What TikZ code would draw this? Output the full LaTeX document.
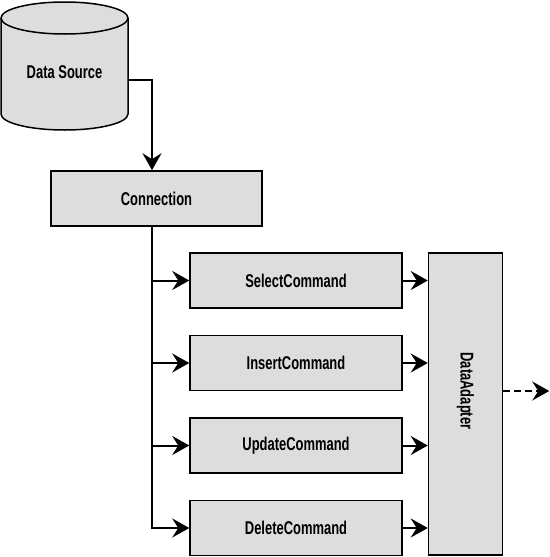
\documentclass[tikz,border=0pt]{standalone}
\usepackage{fontspec}
\setmainfont{Liberation Sans}[FakeStretch=0.7]
\usepackage{tikz}
\usetikzlibrary{positioning,arrows.meta}
\definecolor{boxgray}{RGB}{221,221,221}

\begin{document}
\begin{tikzpicture}[font=\fontsize{18.5}{20}\selectfont\bfseries]
    \tikzstyle{cmd}=[draw, line width=1.5pt, fill=boxgray, minimum width=212pt, minimum height=55pt, node distance=82.5pt, on grid]
    \tikzstyle{arrow}=[line width=2pt, -{Stealth[length=17pt,width=19pt,inset=6pt]}]
    \useasboundingbox (0,0) rectangle (549pt,-557pt);

    % the data source drum
    \draw[line width=1.5pt, fill=boxgray] (1pt,-18pt) -- (1pt,-114pt) arc(180:360:63.5pt and 16pt)
        -- (128pt,-18pt) arc(0:180:63.5pt and 16pt) -- cycle;
    \draw[line width=1.5pt] (1pt,-18pt) arc(180:360:63.5pt and 16pt);
    \node[minimum width=127pt] (src) at (64.5pt,-72pt) {Data Source};

    \node[cmd, minimum width=211pt, below right=126.5pt and 92pt of src] (conn) {Connection};

    \node[cmd, below right=82pt and 139.5pt of conn] (sel) {SelectCommand};
    \node[cmd, below of=sel] (ins) {InsertCommand};
    \node[cmd, below of=ins] (upd) {UpdateCommand};
    \node[cmd, below of=upd] (del) {DeleteCommand};

    \node[draw, line width=1.5pt, fill=boxgray, minimum width=74pt, minimum height=302pt,
          anchor=north west] (adapter) at ([xshift=25pt]sel.north east) {};
    \node[rotate=-90] (adaptlabel) at ([yshift=13pt]adapter.center) {DataAdapter};

    \coordinate (trunk) at ([xshift=-4.5pt]conn.south);
    \coordinate[right=46pt of adapter.east |- adaptlabel] (out);

    \draw[arrow] ([yshift=-8pt]src.east) -| ([xshift=-4.5pt]conn.north);
    \draw[arrow] (trunk) |- (del.west);
    \foreach \c in {sel,ins,upd} {
        \draw[arrow] (trunk |- \c.west) -- (\c.west);
    }
    \foreach \c in {sel,ins,upd,del} {
        \draw[arrow] (\c.east) -- (adapter.west |- \c.east);
    }
    \draw[arrow, dash pattern=on 7pt off 4pt] (adapter.east |- adaptlabel) -- (out);
\end{tikzpicture}
\end{document}
